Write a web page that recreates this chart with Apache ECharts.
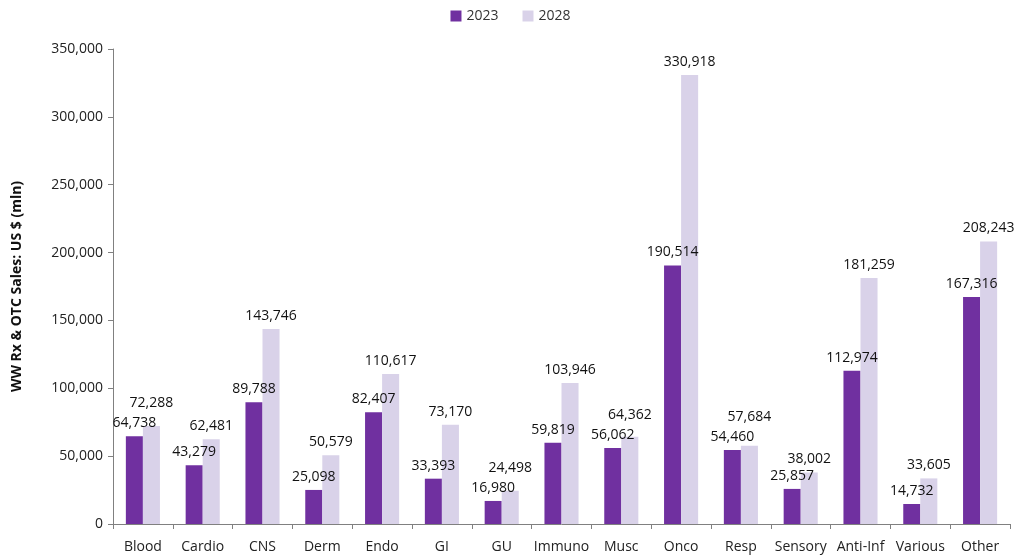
<!DOCTYPE html>
<html><head><meta charset="utf-8">
<script src="https://cdn.jsdelivr.net/npm/echarts@6/dist/echarts.min.js"></script>
<style>html,body{margin:0;padding:0;background:#fff}#c{width:1021px;height:558px}</style>
</head><body><div id="c"></div>
<script>
const categories = ['Blood','Cardio','CNS','Derm','Endo','GI','GU','Immuno','Musc','Onco','Resp','Sensory','Anti-Inf','Various','Other'];
const sales2023 = [64738,43279,89788,25098,82407,33393,16980,59819,56062,190514,54460,25857,112974,14732,167316];
const sales2028 = [72288,62481,143746,50579,110617,73170,24498,103946,64362,330918,57684,38002,181259,33605,208243];
const yTicks = [0,50000,100000,150000,200000,250000,300000,350000];
const FONT = 'Open Sans';
const fmt = v => v.toLocaleString('en-US');
const chart = echarts.init(document.getElementById('c'));
const lbl = {show:true,position:'top',distance:6,fontSize:14,color:'#111',formatter:p=>fmt(p.value),fontFamily:FONT};
// lift a 2028 label when it would collide with the neighbouring 2023 label
function lift2028(params){
  const i = params.dataIndex;
  const r = params.rect;
  const pxPerUnit = r.height / sales2028[i];
  const top2028 = r.y;
  const top2023 = r.y + r.height - sales2023[i] * pxPerUnit;
  const diff = top2023 - top2028;
  if (diff < 15) return {dy: -(20 - diff)};
  return {};
}
chart.setOption({
  animation:false,
  textStyle:{fontFamily:FONT},
  legend:{top:4,left:'center',itemWidth:11,itemHeight:11,itemGap:24,icon:'rect',
    textStyle:{fontSize:14,color:'#333',fontFamily:FONT}},
  grid:{left:113,right:11,top:49,bottom:34,containLabel:false},
  xAxis:{type:'category',data:categories,
    axisLine:{lineStyle:{color:'#808080'}},
    axisTick:{show:true,alignWithLabel:false,length:5,lineStyle:{color:'#808080'}},
    axisLabel:{fontSize:14,color:'#222',margin:16,interval:0,fontFamily:FONT}},
  yAxis:{type:'value',min:yTicks[0],max:yTicks[yTicks.length-1],interval:50000,
    name:'WW Rx & OTC Sales: US $ (mln)',nameLocation:'middle',nameGap:89,
    nameTextStyle:{fontSize:14,fontWeight:'bold',color:'#111',fontFamily:FONT},
    axisLine:{show:true,lineStyle:{color:'#808080'}},
    axisTick:{show:true,length:5,lineStyle:{color:'#808080'}},
    splitLine:{show:false},
    axisLabel:{fontSize:14,color:'#222',margin:10,formatter:v=>fmt(v),fontFamily:FONT}},
  series:[
    {name:'2023',type:'bar',data:sales2023,barGap:'0%',barCategoryGap:'43%',
     itemStyle:{color:'#7030A0'},label:lbl},
    {name:'2028',type:'bar',data:sales2028,
     itemStyle:{color:'#D9D2E9'},label:lbl,labelLayout:lift2028}
  ]
});
</script></body></html>
